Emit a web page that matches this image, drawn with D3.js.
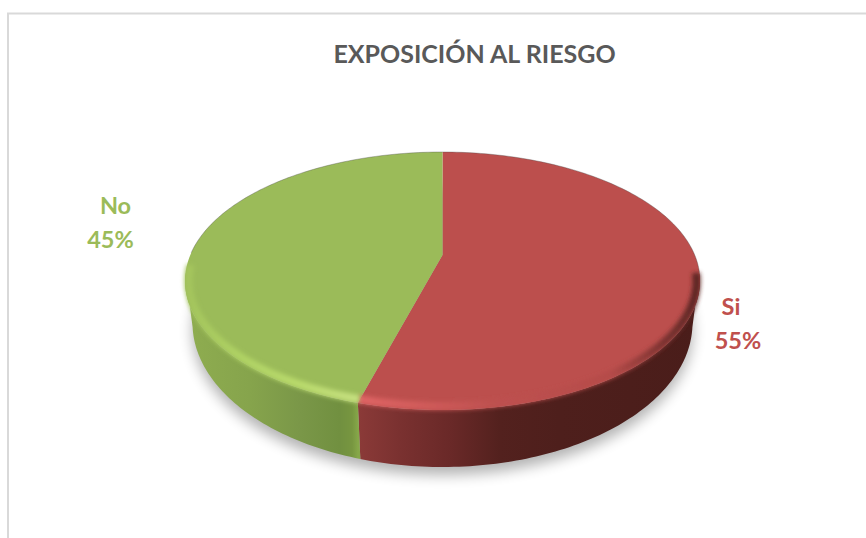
<!DOCTYPE html>
<html lang="es">
<head>
<meta charset="utf-8">
<title>Exposición al riesgo</title>
<script src="https://cdn.jsdelivr.net/npm/d3@7"></script>
<style>
  html, body { margin: 0; padding: 0; background: #fff; }
  svg { display: block; }
  text { font-family: "Lato", "Open Sans", sans-serif; font-weight: 700; }
</style>
</head>
<body>
<svg id="chart" width="866" height="538"></svg>
<script>
// Chart content
const chartTitle = "EXPOSICIÓN AL RIESGO";
const categories = ["Si", "No"];
const shares = [55, 45];
const faceColors = ["#bc4f4d", "#9bbb59"];
const labelColors = ["#c0504d", "#9bbb59"];

// Pie geometry: the near edge of the disc is larger than the far edge, so the
// top face and the base are two ellipses and the pie centre sits above the midpoint.
const W = 866, H = 538;
const cx = 442.5;
const faceEllipse = { cy: 281, rx: 257.5, ry: 129 };
const baseEllipse = { cy: 323, rx: 250, ry: 144 };
const centreY = 255;
const foreshorten = -0.065;

const svg = d3.select("#chart");
const defs = svg.append("defs");

// Horizontal gradient helper, expressed in page coordinates
function hGradient(id, stops) {
  const x0 = cx - faceEllipse.rx, x1 = cx + faceEllipse.rx;
  const g = defs.append("linearGradient").attr("id", id)
    .attr("gradientUnits", "userSpaceOnUse")
    .attr("x1", x0).attr("x2", x1).attr("y1", 0).attr("y2", 0);
  g.selectAll("stop").data(stops).join("stop")
    .attr("offset", d => (d[0] - x0) / (x1 - x0))
    .attr("stop-color", d => d[1]);
}
hGradient("wall-0", [[358, "#8b3a38"], [400, "#7a3130"], [450, "#6a2928"], [500, "#53211e"], [560, "#4e1f1c"], [700, "#4a1d1a"]]);
hGradient("wall-1", [[185, "#8fad50"], [250, "#86a44c"], [300, "#7a9748"], [340, "#719040"], [352, "#779640"], [358, "#86a749"]]);
hGradient("rim-0", [[358, "#e06565"], [420, "#d25c5b"], [490, "#bf5150"], [610, "#b54b49"], [665, "#7a3230"], [700, "#5a2523"]]);
hGradient("rim-1", [[185, "#a3c45c"], [240, "#afd264"], [300, "#b9da6c"], [358, "#c6e080"]]);

defs.append("filter").attr("id", "soft-shadow")
  .attr("x", "-20%").attr("y", "-30%").attr("width", "140%").attr("height", "160%")
  .append("feGaussianBlur").attr("stdDeviation", 7);
defs.append("filter").attr("id", "soft-rim")
  .attr("filterUnits", "userSpaceOnUse")
  .attr("x", 0).attr("y", 100).attr("width", W).attr("height", 400)
  .append("feGaussianBlur").attr("stdDeviation", 2);

// Slices run clockwise from twelve o'clock
const pie = d3.pie().sort(null).value(d => d);
const slices = pie(shares);

// Project a pie angle onto an ellipse, compressing the far side of the disc
function project(a, e, inset = [0, 0]) {
  const u = Math.sin(a), v = -Math.cos(a);
  const w = 1 + foreshorten * v;
  const s = Math.sqrt(1 - foreshorten * foreshorten);
  return [cx + (e.rx - inset[0]) * u * s / w,
          e.cy + (e.ry - inset[1]) * (v + foreshorten) / w];
}

// The base outline meets the face lower down at the sides, so its angles
// are drawn in towards the front as they approach the silhouette.
function baseAngle(a) {
  const d = Math.abs(a - Math.PI);
  const t = Math.min(1, Math.max(0, (d - Math.PI / 4) / (Math.PI / 4)));
  return Math.PI + Math.sign(a - Math.PI) * (d - 0.03 * Math.PI * t * t);
}
const anglesBetween = (a0, a1) => {
  const n = Math.max(2, Math.ceil((a1 - a0) / 0.02));
  return d3.range(n + 1).map(i => a0 + (a1 - a0) * i / n);
};

// Chart frame: only the top and left borders fall inside the page
const frame = svg.append("g").attr("fill", "none").attr("stroke", "#d9d9d9").attr("stroke-width", 2);
frame.append("line").attr("x1", 7).attr("x2", W).attr("y1", 13.5).attr("y2", 13.5);
frame.append("line").attr("x1", 8).attr("x2", 8).attr("y1", 13).attr("y2", H);

// Soft shadow under the disc
svg.append("ellipse")
  .attr("cx", cx).attr("cy", baseEllipse.cy + 8).attr("rx", baseEllipse.rx).attr("ry", baseEllipse.ry)
  .attr("fill", "#000").attr("opacity", 0.3)
  .attr("filter", "url(#soft-shadow)");

// Side wall between the near edges of the top face and the base
const wallArea = d3.area()
  .x0(a => project(a, faceEllipse)[0]).y0(a => project(a, faceEllipse)[1])
  .x1(a => project(baseAngle(a), baseEllipse)[0]).y1(a => project(baseAngle(a), baseEllipse)[1]);
svg.append("g").selectAll("path").data(slices).join("path")
  .attr("d", d => wallArea(anglesBetween(
    Math.max(d.startAngle, Math.PI * 0.5),
    Math.min(d.endAngle, Math.PI * 1.5))))
  .attr("fill", (d, i) => `url(#wall-${i})`);

// Top face: each slice closes through the projected pie centre
const faceLine = d3.line();
svg.append("g").selectAll("path").data(slices).join("path")
  .attr("d", d => faceLine([[cx, centreY], ...anglesBetween(d.startAngle, d.endAngle).map(a => project(a, faceEllipse))]) + "Z")
  .attr("fill", (d, i) => faceColors[i]);

// Thin dark line on the far edge of the disc
svg.append("path")
  .attr("d", faceLine(anglesBetween(Math.PI * 1.55, Math.PI * 2.5).map(a => project(a, faceEllipse))))
  .attr("fill", "none").attr("stroke", "#4d4d4d").attr("stroke-opacity", 0.4).attr("stroke-width", 0.9);

// Bevel along the near edge of the top face
svg.append("g").selectAll("path").data(slices).join("path")
  .attr("d", (d, i) => faceLine(anglesBetween(
    i === 0 ? Math.PI * 0.5 : d.startAngle,
    i === 0 ? d.endAngle : Math.PI * 1.52).map(a => project(a, faceEllipse, [3.5, 4]))))
  .attr("fill", "none")
  .attr("stroke", (d, i) => `url(#rim-${i})`)
  .attr("stroke-width", 8)
  .attr("filter", "url(#soft-rim)");

// Title
svg.append("text")
  .attr("x", 474.5).attr("y", 63)
  .attr("text-anchor", "middle")
  .attr("font-size", 25)
  .attr("fill", "#595959")
  .text(chartTitle);

// Data labels: category over percentage
const namePos = [[731, 315], [115.5, 214]];
const sharePos = [[738, 348.5], [110.5, 248]];
const labels = svg.append("g").selectAll("text").data(categories).join("text")
  .attr("text-anchor", "middle")
  .attr("font-size", 23.5)
  .attr("fill", (d, i) => labelColors[i]);
labels.append("tspan")
  .attr("x", (d, i) => namePos[i][0])
  .attr("y", (d, i) => namePos[i][1])
  .text(d => d);
labels.append("tspan")
  .attr("x", (d, i) => sharePos[i][0])
  .attr("y", (d, i) => sharePos[i][1])
  .text((d, i) => `${shares[i]}%`);
</script>
</body>
</html>
